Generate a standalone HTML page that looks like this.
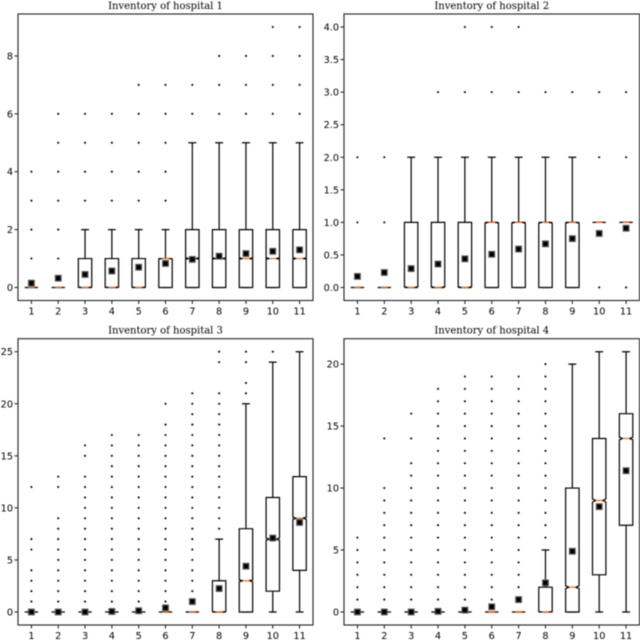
<!DOCTYPE html>
<html>
<head>
<meta charset="utf-8">
<style>
html,body{margin:0;padding:0;background:#fff;width:640px;height:640px;overflow:hidden}
svg{display:block;filter:blur(0.4px)}
text{fill:#000}
.tick{font-family:"DejaVu Sans","Liberation Sans",sans-serif;font-size:9.7px}
.title{font-family:"DejaVu Serif","Liberation Serif",serif;font-size:10px}
</style>
</head>
<body>
<svg id="chart" xmlns="http://www.w3.org/2000/svg" width="640" height="640" viewBox="0 0 640 640"></svg>
<script>
const categories = [1, 2, 3, 4, 5, 6, 7, 8, 9, 10, 11];

const h1Means = [0.15, 0.32, 0.45, 0.57, 0.70, 0.83, 0.97, 1.08, 1.17, 1.25, 1.30];
const h1Q1 = [0, 0, 0, 0, 0, 0, 0, 0, 0, 0, 0];
const h1Median = [0, 0, 0, 0, 0, 1, 1, 1, 1, 1, 1];
const h1Q3 = [0, 0, 1, 1, 1, 1, 2, 2, 2, 2, 2];
const h1WhiskerLow = [0, 0, 0, 0, 0, 0, 0, 0, 0, 0, 0];
const h1WhiskerHigh = [0, 0, 2, 2, 2, 2, 5, 5, 5, 5, 5];
const h1Outliers = [
  [1, 2, 3, 4], [1, 2, 3, 4, 5, 6], [3, 4, 5, 6], [3, 4, 5, 6], [3, 4, 5, 6, 7], [3, 4, 5, 6, 7],
  [6, 7], [6, 7, 8], [6, 7, 8], [6, 7, 8, 9], [6, 7, 8, 9]
];
const h1Ticks = [0, 2, 4, 6, 8];
const h1Limits = [-0.45, 9.45];

const h2Means = [0.17, 0.23, 0.29, 0.36, 0.44, 0.51, 0.59, 0.67, 0.75, 0.83, 0.91];
const h2Q1 = [0, 0, 0, 0, 0, 0, 0, 0, 0, 1, 1];
const h2Median = [0, 0, 0, 0, 0, 1, 1, 1, 1, 1, 1];
const h2Q3 = [0, 0, 1, 1, 1, 1, 1, 1, 1, 1, 1];
const h2WhiskerLow = [0, 0, 0, 0, 0, 0, 0, 0, 0, 1, 1];
const h2WhiskerHigh = [0, 0, 2, 2, 2, 2, 2, 2, 2, 1, 1];
const h2Outliers = [
  [1, 2], [1, 2], [], [3], [3, 4], [3, 4], [3, 4], [3], [3], [0, 2, 3], [0, 2, 3]
];
const h2Ticks = [0, 0.5, 1, 1.5, 2, 2.5, 3, 3.5, 4];
const h2Limits = [-0.2, 4.2];

const h3Means = [0, 0, 0, 0.05, 0.12, 0.4, 1.0, 2.25, 4.4, 7.1, 8.6];
const h3Q1 = [0, 0, 0, 0, 0, 0, 0, 0, 0, 2, 4];
const h3Median = [0, 0, 0, 0, 0, 0, 0, 0, 3, 7, 9];
const h3Q3 = [0, 0, 0, 0, 0, 0, 0, 3, 8, 11, 13];
const h3WhiskerLow = [0, 0, 0, 0, 0, 0, 0, 0, 0, 0, 0];
const h3WhiskerHigh = [0, 0, 0, 0, 0, 0, 0, 7, 20, 24, 25];
const h3Outliers = [
  [1, 2, 3, 4, 6, 7, 12],
  [1, 2, 3, 4, 5, 6, 7, 8, 9, 12, 13],
  [1, 2, 3, 4, 5, 6, 7, 8, 9, 10, 11, 12, 13, 15, 16],
  [1, 2, 3, 4, 5, 6, 7, 8, 9, 10, 11, 12, 13, 14, 15, 16, 17],
  [1, 2, 3, 4, 5, 6, 7, 8, 9, 10, 11, 12, 13, 14, 15, 16, 17],
  [1, 2, 3, 4, 5, 6, 7, 8, 9, 10, 11, 12, 13, 14, 15, 16, 17, 18, 20],
  [2, 3, 4, 5, 6, 7, 8, 9, 10, 11, 12, 13, 14, 15, 16, 17, 18, 19, 20, 21],
  [8, 9, 10, 11, 12, 13, 14, 15, 16, 17, 18, 19, 20, 21, 24, 25],
  [21, 22, 24, 25],
  [25],
  []
];
const h3Ticks = [0, 5, 10, 15, 20, 25];
const h3Limits = [-1.25, 26.25];

const h4Means = [0, 0, 0, 0.05, 0.15, 0.42, 1.0, 2.35, 4.9, 8.5, 11.4];
const h4Q1 = [0, 0, 0, 0, 0, 0, 0, 0, 0, 3, 7];
const h4Median = [0, 0, 0, 0, 0, 0, 0, 0, 2, 9, 14];
const h4Q3 = [0, 0, 0, 0, 0, 0, 0, 2, 10, 14, 16];
const h4WhiskerLow = [0, 0, 0, 0, 0, 0, 0, 0, 0, 0, 0];
const h4WhiskerHigh = [0, 0, 0, 0, 0, 0, 0, 5, 20, 21, 21];
const h4Outliers = [
  [1, 2, 3, 4, 5, 6],
  [1, 2, 3, 4, 5, 6, 7, 8, 9, 10, 14],
  [1, 2, 3, 4, 5, 6, 7, 8, 9, 10, 11, 12, 14, 16],
  [1, 2, 3, 4, 5, 6, 7, 8, 9, 10, 11, 12, 13, 14, 15, 16, 17, 18],
  [1, 2, 3, 4, 5, 6, 7, 8, 9, 10, 11, 12, 13, 14, 15, 16, 17, 18, 19],
  [1, 2, 3, 4, 5, 6, 7, 8, 9, 10, 11, 12, 13, 14, 15, 16, 17, 18, 19],
  [2, 3, 4, 5, 6, 7, 8, 9, 10, 11, 12, 13, 14, 15, 16, 17, 18, 19],
  [6, 7, 8, 9, 10, 11, 12, 13, 14, 15, 16, 17, 18, 19, 20],
  [], [], []
];
const h4Ticks = [0, 5, 10, 15, 20];
const h4Limits = [-1.05, 22.05];

const sampleSize = 20000;

const panels = [
  {id: 1, frame: {l: 18, r: 313, t: 14, b: 300.5}, means: h1Means, q1: h1Q1, med: h1Median, q3: h1Q3, lo: h1WhiskerLow, hi: h1WhiskerHigh, out: h1Outliers, ticks: h1Ticks, lim: h1Limits, fmt: v => String(v)},
  {id: 2, frame: {l: 344, r: 639.5, t: 14, b: 300.5}, means: h2Means, q1: h2Q1, med: h2Median, q3: h2Q3, lo: h2WhiskerLow, hi: h2WhiskerHigh, out: h2Outliers, ticks: h2Ticks, lim: h2Limits, fmt: v => v.toFixed(1)},
  {id: 3, frame: {l: 18, r: 313, t: 338.7, b: 625}, means: h3Means, q1: h3Q1, med: h3Median, q3: h3Q3, lo: h3WhiskerLow, hi: h3WhiskerHigh, out: h3Outliers, ticks: h3Ticks, lim: h3Limits, fmt: v => String(v)},
  {id: 4, frame: {l: 344, r: 639.5, t: 338.7, b: 625}, means: h4Means, q1: h4Q1, med: h4Median, q3: h4Q3, lo: h4WhiskerLow, hi: h4WhiskerHigh, out: h4Outliers, ticks: h4Ticks, lim: h4Limits, fmt: v => String(v)}
];

const NS = 'http://www.w3.org/2000/svg';
const root = document.getElementById('chart');

function make(parent, tag, attrs) {
  const el = document.createElementNS(NS, tag);
  for (const k in attrs) el.setAttribute(k, attrs[k]);
  parent.appendChild(el);
  return el;
}

panels.forEach(p => {
  const f = p.frame;
  const xScale = v => f.l + (v - 0.5) / 11 * (f.r - f.l);
  const yScale = v => f.b - (v - p.lim[0]) / (p.lim[1] - p.lim[0]) * (f.b - f.t);
  const halfBox = 0.25 * (f.r - f.l) / 11;
  const halfCap = halfBox / 2 + 0.6;

  const g = make(root, 'g', {});
  
  

  const title = make(g, 'text', {x: (f.l + f.r) / 2, y: f.t - 5, 'text-anchor': 'middle', class: 'title'});
  title.textContent = 'Inventory of hospital ' + p.id;
  
  

  categories.forEach((c, i) => {
    const cx = xScale(c);
    const mark = make(g, 'g', {fill: 'none', stroke: '#000', 'stroke-width': 1.2});
    
    

    const yHi = yScale(p.hi[i]), yLo = yScale(p.lo[i]);
    const y1 = yScale(p.q1[i]), y3 = yScale(p.q3[i]), ym = yScale(p.med[i]);
    const spread = 1.57 * (p.q3[i] - p.q1[i]) / Math.sqrt(sampleSize);
    const yn1 = Math.min(y1, yScale(p.med[i] - spread));
    const yn3 = Math.max(y3, yScale(p.med[i] + spread));

    const whisker = make(mark, 'path', {d: `M${cx} ${y3}V${yHi}M${cx} ${y1}V${yLo}M${cx - halfCap} ${yHi}H${cx + halfCap}M${cx - halfCap} ${yLo}H${cx + halfCap}`});
    
    

    const n = halfBox / 2;
    const box = make(mark, 'path', {fill: '#fff', d:
      `M${cx - halfBox} ${y1}H${cx + halfBox}V${yn1}L${cx + n} ${ym}L${cx + halfBox} ${yn3}V${y3}H${cx - halfBox}V${yn3}L${cx - n} ${ym}L${cx - halfBox} ${yn1}Z`});
    
    

    const median = make(mark, 'line', {x1: cx - n, x2: cx + n, y1: ym, y2: ym, stroke: '#ff6a10'});
    
    

    p.out[i].forEach(v => {
      const dot = make(mark, 'circle', {cx: cx, cy: yScale(v), r: 1.05, fill: '#000', stroke: 'none'});
      
      
    });

    const mean = make(mark, 'rect', {x: cx - 2.8, y: yScale(p.means[i]) - 2.8, width: 5.6, height: 5.6, fill: '#000', stroke: '#555', 'stroke-width': 1.2});
    
    

    const tick = make(g, 'line', {x1: cx, x2: cx, y1: f.b, y2: f.b + 3.5, stroke: '#000', 'stroke-width': 0.9});
    
    

    const label = make(g, 'text', {x: cx, y: f.b + 14, 'text-anchor': 'middle', class: 'tick'});
    label.textContent = c;
    
    
  });

  p.ticks.forEach(v => {
    const y = yScale(v);
    const tick = make(g, 'line', {x1: f.l - 3.5, x2: f.l, y1: y, y2: y, stroke: '#000', 'stroke-width': 0.9});
    
    

    const label = make(g, 'text', {x: f.l - 5, y: y + 3.5, 'text-anchor': 'end', class: 'tick'});
    label.textContent = p.fmt(v);
    
    
  });

  const frame = make(g, 'rect', {x: f.l, y: f.t, width: f.r - f.l, height: f.b - f.t, fill: 'none', stroke: '#222', 'stroke-width': 1.1});
  
  
});
</script>
</body>
</html>
